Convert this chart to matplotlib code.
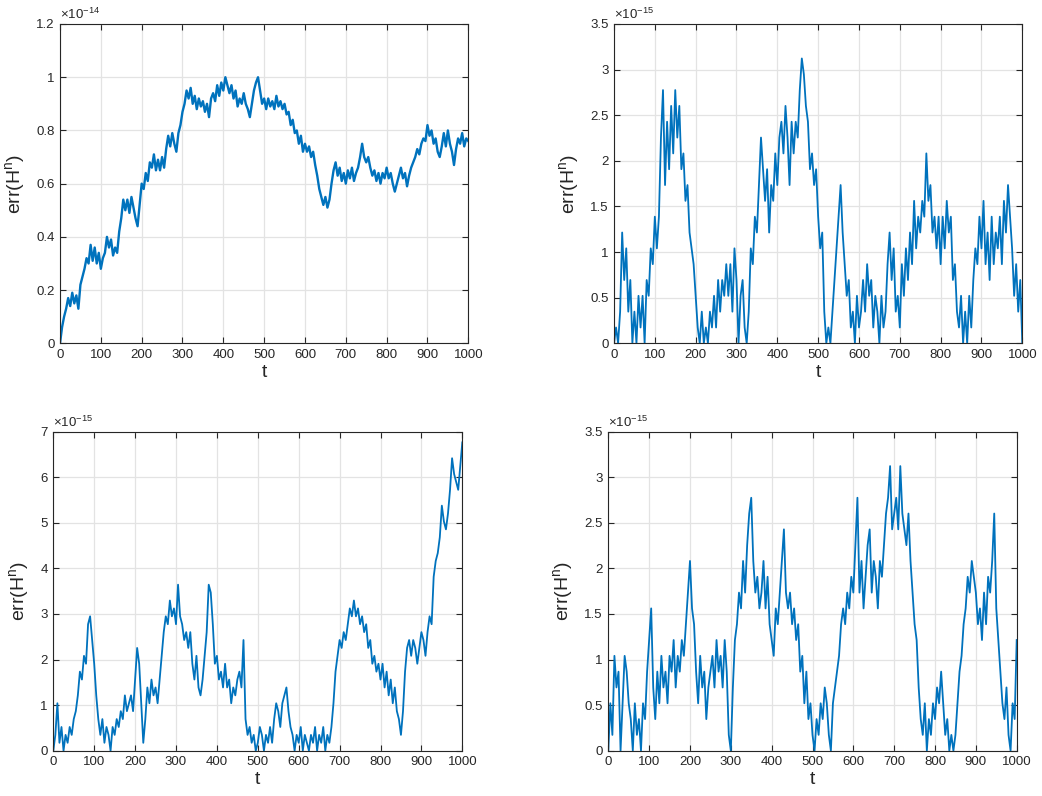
import numpy as np
import matplotlib
matplotlib.use("Agg")
import matplotlib.pyplot as plt
from matplotlib.ticker import FuncFormatter

plt.rcParams['font.family'] = ['Liberation Sans', 'DejaVu Sans']
plt.rcParams['mathtext.fontset'] = 'custom'
plt.rcParams['mathtext.rm'] = 'Liberation Sans'

# ---- data (sampled every 5 time units, t = 0..1000) ----
# panel 1 : err(H^n) in units of 1e-14
err1 = [0.00, 0.06, 0.10, 0.13, 0.17, 0.14, 0.19, 0.15, 0.18, 0.13,
        0.22, 0.25, 0.28, 0.32, 0.30, 0.37, 0.31, 0.36, 0.30, 0.34,
        0.28, 0.32, 0.34, 0.40, 0.36, 0.39, 0.33, 0.36, 0.34, 0.42,
        0.47, 0.54, 0.50, 0.54, 0.49, 0.55, 0.51, 0.47, 0.44, 0.52,
        0.60, 0.58, 0.64, 0.61, 0.68, 0.66, 0.71, 0.65, 0.69, 0.65,
        0.70, 0.66, 0.73, 0.78, 0.74, 0.79, 0.75, 0.72, 0.79, 0.82,
        0.87, 0.90, 0.95, 0.92, 0.96, 0.90, 0.93, 0.88, 0.92, 0.89,
        0.91, 0.87, 0.90, 0.85, 0.92, 0.94, 0.91, 0.97, 0.93, 0.98,
        0.95, 1.00, 0.97, 0.94, 0.97, 0.92, 0.95, 0.89, 0.92, 0.90,
        0.94, 0.90, 0.88, 0.85, 0.90, 0.95, 0.98, 1.00, 0.95, 0.90,
        0.92, 0.88, 0.92, 0.89, 0.91, 0.88, 0.93, 0.89, 0.91, 0.88,
        0.90, 0.86, 0.87, 0.82, 0.84, 0.79, 0.80, 0.75, 0.78, 0.72,
        0.75, 0.72, 0.74, 0.70, 0.72, 0.67, 0.63, 0.58, 0.55, 0.52,
        0.55, 0.51, 0.54, 0.60, 0.65, 0.68, 0.63, 0.66, 0.61, 0.64,
        0.60, 0.65, 0.62, 0.66, 0.61, 0.64, 0.66, 0.70, 0.75, 0.70,
        0.68, 0.70, 0.66, 0.63, 0.65, 0.61, 0.64, 0.60, 0.64, 0.62,
        0.66, 0.62, 0.64, 0.60, 0.57, 0.60, 0.63, 0.66, 0.62, 0.64,
        0.59, 0.63, 0.66, 0.68, 0.70, 0.73, 0.71, 0.75, 0.77, 0.76,
        0.82, 0.78, 0.80, 0.75, 0.77, 0.72, 0.70, 0.74, 0.79, 0.74,
        0.80, 0.75, 0.72, 0.67, 0.73, 0.77, 0.75, 0.79, 0.74, 0.77,
        0.76]

# panels 2-4 : err(H^n) as integer multiples of the round-off step LEVEL (in 1e-15)
LEVEL = 0.17347
err2 = [0, 1, 0, 2, 7, 4, 6, 2, 4, 0, 2, 0, 3, 1, 3, 0, 4, 3, 6, 5,
        8, 6, 8, 13, 16, 10, 14, 11, 15, 12, 16, 13, 15, 11, 12, 9, 10, 7, 6, 5,
        3, 1, 0, 2, 0, 1, 0, 2, 1, 3, 1, 4, 2, 4, 3, 5, 3, 5, 2, 6,
        4, 0, 3, 4, 1, 0, 2, 6, 5, 8, 7, 10, 13, 11, 9, 11, 7, 10, 9, 12,
        10, 13, 14, 12, 15, 13, 10, 14, 12, 14, 13, 16, 18, 17, 15, 14, 11, 12, 10, 11,
        8, 6, 7, 2, 0, 1, 0, 2, 4, 6, 8, 10, 7, 5, 3, 4, 1, 2, 0, 3,
        1, 2, 4, 2, 5, 3, 4, 1, 3, 2, 0, 3, 1, 2, 5, 7, 4, 6, 2, 3,
        1, 5, 3, 6, 4, 7, 5, 9, 6, 8, 7, 9, 8, 12, 9, 10, 7, 8, 6, 8,
        5, 8, 6, 9, 7, 8, 4, 5, 2, 1, 3, 0, 2, 0, 3, 1, 4, 6, 5, 8,
        6, 9, 5, 7, 4, 8, 5, 7, 6, 8, 5, 9, 7, 10, 8, 6, 3, 5, 2, 4,
        0]
err3 = [0, 2, 6, 1, 3, 0, 2, 1, 3, 2, 4, 5, 7, 10, 9, 12, 11, 16, 17, 14,
        11, 7, 4, 2, 4, 1, 3, 2, 0, 3, 2, 4, 3, 5, 4, 7, 5, 6, 7, 5,
        9, 13, 11, 6, 1, 4, 8, 6, 9, 7, 8, 6, 9, 12, 15, 17, 16, 19, 17, 18,
        16, 21, 17, 16, 14, 15, 13, 15, 11, 9, 12, 8, 7, 9, 12, 15, 21, 20, 16, 11,
        12, 9, 10, 8, 11, 8, 9, 6, 8, 7, 9, 10, 8, 14, 4, 2, 3, 1, 2, 0,
        1, 3, 2, 0, 2, 1, 3, 1, 4, 6, 5, 3, 6, 7, 8, 5, 3, 2, 0, 2,
        1, 3, 0, 2, 1, 0, 2, 1, 3, 0, 2, 1, 3, 0, 2, 1, 3, 6, 10, 12,
        14, 13, 15, 14, 16, 18, 17, 19, 17, 18, 16, 17, 15, 16, 13, 14, 11, 12, 10, 11,
        9, 11, 8, 10, 7, 9, 6, 8, 5, 4, 2, 5, 10, 13, 14, 12, 14, 13, 11, 13,
        15, 14, 12, 15, 17, 16, 22, 24, 25, 27, 31, 29, 28, 30, 33, 37, 35, 34, 33, 36,
        39]
err4 = [0, 3, 1, 6, 4, 5, 0, 3, 6, 5, 3, 2, 0, 3, 1, 2, 0, 3, 2, 5,
        7, 9, 4, 2, 5, 3, 6, 4, 5, 3, 6, 5, 7, 4, 6, 5, 7, 6, 8, 10,
        12, 9, 8, 5, 3, 6, 4, 5, 2, 4, 5, 6, 4, 7, 5, 6, 4, 7, 5, 1,
        0, 4, 7, 8, 10, 9, 12, 10, 13, 15, 16, 12, 10, 11, 9, 10, 12, 9, 11, 8,
        7, 6, 9, 8, 10, 12, 14, 10, 9, 10, 8, 9, 7, 8, 5, 6, 3, 5, 2, 3,
        1, 0, 2, 1, 3, 2, 4, 3, 1, 0, 3, 4, 5, 6, 8, 9, 8, 10, 9, 11,
        10, 13, 16, 10, 12, 9, 11, 13, 14, 10, 12, 11, 9, 12, 11, 13, 15, 16, 18, 14,
        15, 16, 14, 18, 15, 14, 13, 15, 12, 10, 8, 7, 4, 2, 1, 3, 0, 2, 1, 3,
        2, 4, 3, 5, 3, 1, 2, 0, 1, 0, 1, 3, 5, 6, 8, 9, 11, 10, 12, 11,
        10, 8, 9, 7, 10, 8, 11, 10, 12, 15, 9, 7, 5, 3, 2, 4, 1, 0, 3, 2,
        7]

panels = [
    dict(y=np.array(err1, float), ylim=(0, 1.2), yticks=np.arange(0, 1.21, 0.2), exp='-14',
         rect=[60/1042, 1-343.3/796, 408.3/1042, 319.3/796], lw=1.7),
    dict(y=np.array(err2, float) * LEVEL, ylim=(0, 3.5), yticks=np.arange(0, 3.51, 0.5), exp='-15',
         rect=[614/1042, 1-343.3/796, 408.3/1042, 319.3/796], lw=1.3),
    dict(y=np.array(err3, float) * LEVEL, ylim=(0, 7), yticks=np.arange(0, 7.1, 1), exp='-15',
         rect=[53.3/1042, 1-750.7/796, 409/1042, 319/796], lw=1.3),
    dict(y=np.array(err4, float) * LEVEL, ylim=(0, 3.5), yticks=np.arange(0, 3.51, 0.5), exp='-15',
         rect=[608.3/1042, 1-750.7/796, 408.4/1042, 319/796], lw=1.3),
]

fig = plt.figure(figsize=(10.42, 7.96), dpi=100)
fmt = FuncFormatter(lambda v, p: ('%g' % round(v, 6)))
dark = '#262626'
for p in panels:
    ax = fig.add_axes(p['rect'])
    t = np.linspace(0, 1000, len(p['y']))
    ax.plot(t, p['y'], color='#0072BD', lw=p['lw'])
    ax.set_xlim(0, 1000)
    ax.set_ylim(*p['ylim'])
    ax.set_xticks(np.arange(0, 1001, 100))
    ax.set_yticks(p['yticks'])
    ax.yaxis.set_major_formatter(fmt)
    ax.grid(True, color='#e3e3e3', lw=0.9)
    ax.set_axisbelow(True)
    ax.tick_params(direction='in', top=True, right=True, length=4, width=0.8,
                   colors=dark, labelsize=9.5, pad=4)
    for s in ax.spines.values():
        s.set_color(dark)
        s.set_linewidth(0.8)
    ax.set_xlabel('t', fontsize=14, color=dark, labelpad=2)
    ax.set_ylabel(r'err(H$^{\mathregular{n}}$)', fontsize=14, color=dark, labelpad=6)
    ax.text(0.0, 1.005, r'$\times\mathregular{10}^{\mathregular{%s}}$' % p['exp'],
            transform=ax.transAxes, fontsize=9.5, color=dark, ha='left', va='bottom')

fig.savefig('out.png', dpi=100)
